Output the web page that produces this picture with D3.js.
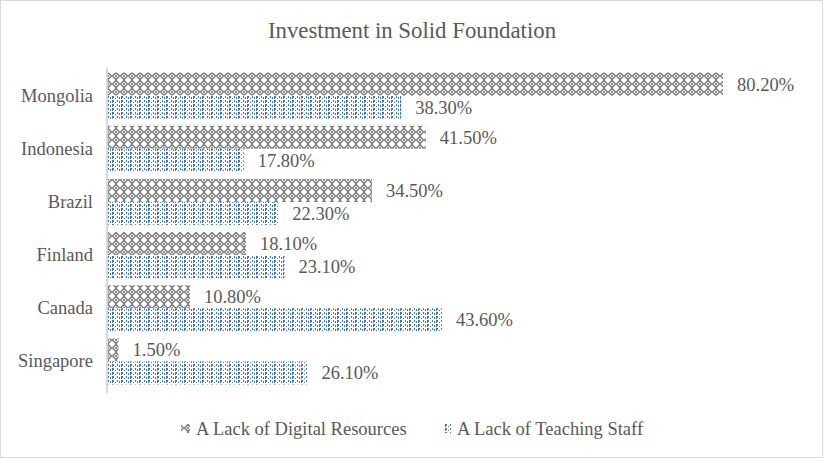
<!DOCTYPE html>
<html><head><meta charset="utf-8">
<script src="https://cdn.jsdelivr.net/npm/d3@7"></script>
<style>body{margin:0;background:#fff}svg{display:block}</style>
</head><body>
<script>
const categories = ["Mongolia","Indonesia","Brazil","Finland","Canada","Singapore"];
const seriesNames = ["A Lack of Digital Resources","A Lack of Teaching Staff"];
const digital = [80.2, 41.5, 34.5, 18.1, 10.8, 1.5];
const teaching = [38.3, 17.8, 22.3, 23.1, 43.6, 26.1];
const title = "Investment in Solid Foundation";

const W = 823, H = 458;
const svg = d3.select("body").append("svg").attr("width", W).attr("height", H);
const defs = svg.append("defs");

// gray dotted diamond pattern
const p1 = defs.append("pattern").attr("id","pDig").attr("patternUnits","userSpaceOnUse")
  .attr("width",8).attr("height",8);
p1.append("rect").attr("width",8).attr("height",8).attr("fill","#fff");
p1.append("path").attr("d","M4,0.5 L7.5,4 L4,7.5 L0.5,4 Z").attr("fill","none").attr("stroke","#7a7a7a").attr("stroke-width",1.5);
p1.append("rect").attr("x",3).attr("y",3).attr("width",2).attr("height",2).attr("fill","#8c8c8c");

// blue dotted vertical pattern
const p2 = defs.append("pattern").attr("id","pTea").attr("patternUnits","userSpaceOnUse")
  .attr("width",9).attr("height",4);
p2.append("rect").attr("width",9).attr("height",4).attr("fill","#fff");
[[0,0,1,2],[2,1,1,2],[4,0,2,2],[7,2,1,1],[4,2,1,1]].forEach(r=>{
  p2.append("rect").attr("x",r[0]).attr("y",r[1]).attr("width",r[2]).attr("height",r[3]).attr("fill","#4472c4");
});

svg.append("rect").attr("x",0.5).attr("y",0.5).attr("width",W-1).attr("height",H-1)
  .attr("fill","#fff").attr("stroke","#d9d9d9");

const x0 = 107;
const x = d3.scaleLinear().domain([0, 80.2]).range([x0, 723]);
const y0 = d3.scaleBand().domain(categories).range([69, 388]);
const y1 = d3.scaleBand().domain(seriesNames).range([0, y0.bandwidth()]).paddingInner(0).paddingOuter(0.155);
const fills = ["url(#pDig)","url(#pTea)"];
const textColor = "#595959";
const font = "Liberation Serif, Times New Roman, serif";

svg.append("text").attr("x", 412).attr("y", 38).attr("text-anchor","middle")
  .attr("font-family",font).attr("font-size",22.8).attr("fill",textColor).text(title);

const rows = categories.map((c,i)=>({c, vals:[digital[i], teaching[i]]}));
const g = svg.append("g");
rows.forEach(r=>{
  r.vals.forEach((v,j)=>{
    const yy = y0(r.c) + y1(seriesNames[j]);
    g.append("rect").attr("x", x(0)).attr("y", yy).attr("width", x(v)-x(0)).attr("height", y1.bandwidth())
      .attr("fill", fills[j]);
    g.append("text").attr("x", x(v)+14).attr("y", yy + y1.bandwidth()/2).attr("dy","0.35em")
      .attr("font-family",font).attr("font-size",18.5).attr("fill",textColor).text(v.toFixed(2)+"%");
  });
});

// axis
const axis = d3.axisLeft(y0).tickSize(0).tickPadding(14);
const ag = svg.append("g").attr("transform",`translate(${x0},0)`).call(axis);
ag.attr("font-family",font);
ag.select(".domain").attr("stroke","#d9d9d9").attr("stroke-width",2).attr("d","M0,68V393");
ag.selectAll("text").attr("font-family",font).attr("font-size",18.5).attr("fill",textColor);

// legend
const leg = [{x:181, tx:196},{x:445, tx:457}];
seriesNames.forEach((s,j)=>{
  svg.append("rect").attr("x",leg[j].x).attr("y",424).attr("width",j?7:9).attr("height",9).attr("fill",fills[j]);
  svg.append("text").attr("x",leg[j].tx).attr("y",428.5).attr("dy","0.35em")
    .attr("font-family",font).attr("font-size",18.5).attr("fill",textColor).text(s);
});
</script>
</body></html>
